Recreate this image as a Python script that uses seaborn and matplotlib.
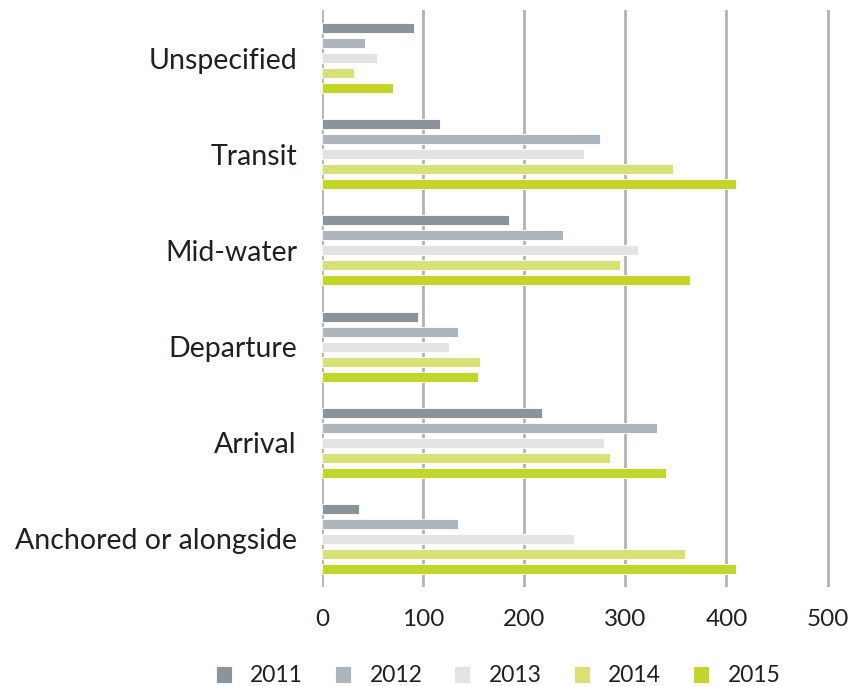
import pandas as pd
import seaborn as sns
import matplotlib.pyplot as plt

categories = ["Unspecified", "Transit", "Mid-water", "Departure", "Arrival", "Anchored or alongside"]
years = ["2011", "2012", "2013", "2014", "2015"]
v2011 = [91, 117, 185, 95, 218, 37]
v2012 = [43, 275, 238, 135, 331, 135]
v2013 = [54, 259, 313, 126, 279, 249]
v2014 = [32, 347, 295, 156, 285, 359]
v2015 = [70, 409, 364, 154, 340, 409]
colors = ["#8a9499", "#adb5bc", "#e3e3e2", "#d9e077", "#c3d52b"]

rows = []
for year, vals in zip(years, [v2011, v2012, v2013, v2014, v2015]):
    for cat, v in zip(categories, vals):
        rows.append({"category": cat, "year": year, "value": v})
df = pd.DataFrame(rows)

sns.set_theme(style="white")
plt.rcParams["font.family"] = ["Lato", "DejaVu Sans"]
text_color = "#231f20"

fig = plt.figure(figsize=(8.52, 6.86), dpi=100)
ax = fig.add_axes([322 / 852, 1 - 587 / 686, 510.6 / 852, 577 / 686])

sns.barplot(data=df, x="value", y="category", hue="year", order=categories,
            hue_order=years, palette=colors, orient="h", width=0.78, gap=0.33,
            edgecolor="white", linewidth=0.6, saturation=1, ax=ax, zorder=3)

ax.set_xlim(0, 505)
ax.set_xticks([0, 100, 200, 300, 400, 500])
ax.xaxis.grid(True, color="#b3b3b3", linewidth=2)
ax.yaxis.grid(False)
ax.set_axisbelow(True)
for s in ax.spines.values():
    s.set_visible(False)
ax.tick_params(axis="x", length=0, pad=16, labelsize=17.5, labelcolor=text_color)
ax.tick_params(axis="y", length=0, pad=18, labelsize=20.5, labelcolor=text_color)
ax.set_xlabel("")
ax.set_ylabel("")

ax.get_legend().remove()
handles, labels = ax.get_legend_handles_labels()
fig.legend(handles[:5], labels[:5], loc="center", bbox_to_anchor=(498 / 852, 1 - 676 / 686),
           ncol=5, frameon=False, fontsize=16.5, handlelength=0.7, handleheight=0.7,
           handletextpad=0.8, columnspacing=1.4, labelcolor=text_color)

plt.savefig("out.png", dpi=100)
